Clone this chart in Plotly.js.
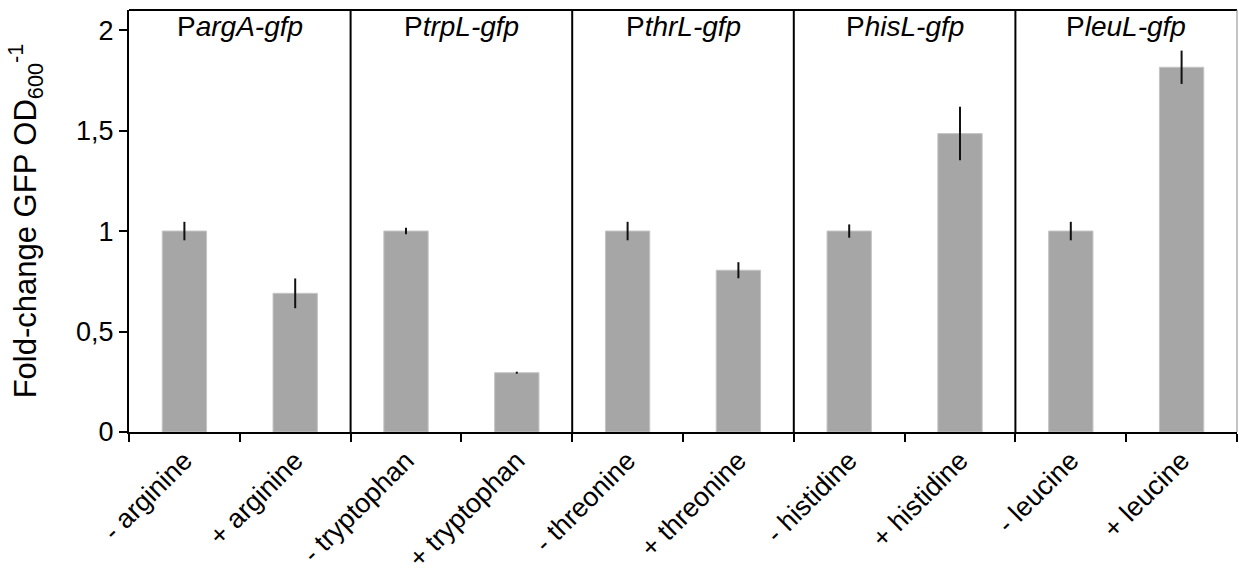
<!DOCTYPE html>
<html>
<head>
<meta charset="utf-8">
<script src="https://cdn.plot.ly/plotly-3.0.1.min.js"></script>
<style>html,body{margin:0;padding:0;background:#fff;}#chart{width:1239px;height:572px;}</style>
</head>
<body>
<div id="chart"></div>
<script>
var categories = ["- arginine", "+ arginine", "- tryptophan", "+ tryptophan", "- threonine", "+ threonine", "- histidine", "+ histidine", "- leucine", "+ leucine"];
var values = [1.00, 0.69, 1.00, 0.295, 1.00, 0.805, 1.00, 1.485, 1.00, 1.815];
var errors = [0.046, 0.074, 0.016, 0.005, 0.046, 0.04, 0.033, 0.133, 0.046, 0.083];
var groupPrefix = ["P", "P", "P", "P", "P"];
var groupGenes = ["argA-gfp", "trpL-gfp", "thrL-gfp", "hisL-gfp", "leuL-gfp"];
var yTicks = [0, 0.5, 1, 1.5, 2];

var FONT = "Liberation Sans, Arial, sans-serif";

var trace = {
  type: "bar",
  x: categories,
  y: values,
  width: 0.4,
  marker: {color: "#a6a6a6", line: {color: "#c4c4c4", width: 1}},
  error_y: {type: "data", array: errors, visible: true, color: "#111", thickness: 2, width: 0},
  hoverinfo: "none"
};

var shapes = [];
for (var g = 1; g < groupGenes.length; g++) {
  shapes.push({type: "line", xref: "x", yref: "paper", x0: 2*g - 0.5, x1: 2*g - 0.5, y0: 0, y1: 1,
               line: {color: "#000", width: 2}});
}
shapes.push({type: "line", xref: "paper", yref: "paper", x0: 0, x1: 1, y0: 1, y1: 1, line: {color: "#000", width: 2}});
shapes.push({type: "line", xref: "paper", yref: "paper", x0: 1, x1: 1, y0: 0, y1: 1, line: {color: "#888", width: 1}});

var annotations = groupGenes.map(function(gene, i) {
  return {xref: "x", yref: "paper", x: 2*i + 0.5, y: 0.96, yanchor: "middle", xanchor: "center",
          text: groupPrefix[i] + "<i>" + gene + "</i>", showarrow: false,
          font: {family: FONT, size: 28, color: "#000"}};
});

var layout = {
  width: 1239, height: 572,
  margin: {l: 129, r: 2, t: 10, b: 140, pad: 0},
  paper_bgcolor: "#fff", plot_bgcolor: "#fff",
  separators: ", ",
  showlegend: false,
  font: {family: FONT, size: 27, color: "#000"},
  xaxis: {
    type: "category",
    tickangle: -45,
    tickson: "boundaries",
    ticks: "outside", ticklen: 8, tickwidth: 2, tickcolor: "#000",
    showline: true, linecolor: "#000", linewidth: 2,
    showgrid: false, zeroline: false,
    tickfont: {family: FONT, size: 27, color: "#000"},
    range: [-0.5, 9.5]
  },
  yaxis: {
    range: [0, 2.1],
    tickvals: yTicks,
    ticktext: yTicks.map(function(v){ return String(v).replace(".", ","); }),
    ticks: "outside", ticklen: 8, tickwidth: 2, tickcolor: "#000",
    showline: true, linecolor: "#000", linewidth: 2,
    showgrid: false, zeroline: false,
    tickfont: {family: FONT, size: 27, color: "#000"},
    title: {text: "Fold-change GFP OD<sub>600</sub><sup>-1</sup>", font: {family: FONT, size: 31, color: "#000"}, standoff: 30}
  },
  shapes: shapes,
  annotations: annotations
};

Plotly.newPlot("chart", [trace], layout, {displayModeBar: false, staticPlot: true});
</script>
</body>
</html>
